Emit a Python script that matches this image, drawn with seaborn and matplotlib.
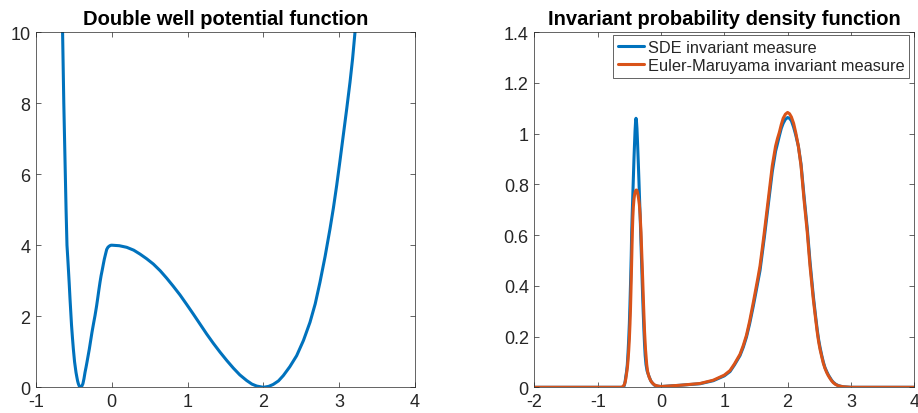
import numpy as np
import pandas as pd
import matplotlib
matplotlib.use("Agg")
import matplotlib.pyplot as plt
from matplotlib.ticker import FuncFormatter
import seaborn as sns

# ---------------- data ----------------
# Left panel: double well potential
pot_x = [-0.648, -0.640, -0.632, -0.622, -0.612, -0.602, -0.590, -0.580, -0.570,
         -0.560, -0.550, -0.540, -0.530, -0.518, -0.506, -0.490, -0.471, -0.460,
         -0.450, -0.440, -0.430, -0.420, -0.409, -0.395, -0.380, -0.366, -0.352,
         -0.338, -0.325, -0.310, -0.295, -0.278, -0.260, -0.240, -0.220, -0.200,
         -0.185, -0.170, -0.154, -0.140, -0.125, -0.110, -0.097, -0.080, -0.066,
         -0.050, -0.035, -0.015, 0.000, 0.100, 0.198, 0.290, 0.373, 0.460, 0.549,
         0.640, 0.726, 0.810, 0.901, 0.990, 1.077, 1.165, 1.253, 1.340, 1.429,
         1.520, 1.605, 1.690, 1.781, 1.850, 1.913, 2.000, 2.070, 2.130, 2.200,
         2.264, 2.350, 2.440, 2.530, 2.616, 2.685, 2.748, 2.815, 2.880, 2.925,
         2.968, 3.010, 3.055, 3.100, 3.144, 3.178, 3.210]
pot_y = [10.0, 9.0, 8.0, 7.0, 6.0, 5.0, 4.0, 3.65, 3.28,
         2.90, 2.49, 2.12, 1.75, 1.40, 1.08, 0.72, 0.42, 0.29,
         0.18, 0.10, 0.045, 0.01, 0.0, 0.03, 0.10, 0.24, 0.42,
         0.57, 0.72, 0.90, 1.08, 1.31, 1.55, 1.79, 2.02, 2.28,
         2.50, 2.73, 2.96, 3.14, 3.30, 3.47, 3.61, 3.76, 3.88,
         3.94, 3.97, 3.995, 4.00, 3.985, 3.94, 3.86, 3.75, 3.62, 3.47,
         3.28, 3.07, 2.85, 2.60, 2.33, 2.06, 1.78, 1.50, 1.24, 0.99,
         0.75, 0.54, 0.35, 0.19, 0.09, 0.035, 0.0, 0.025, 0.08, 0.18,
         0.33, 0.58, 0.89, 1.32, 1.83, 2.35, 2.96, 3.68, 4.46, 5.05,
         5.68, 6.35, 7.09, 7.83, 8.59, 9.25, 10.0]

# Right panel: invariant densities
sde_x = [-2.0, -0.600, -0.585, -0.575, -0.565, -0.558, -0.545, -0.532, -0.520,
         -0.510, -0.500, -0.490, -0.480, -0.470, -0.463, -0.455, -0.445, -0.436,
         -0.427, -0.418, -0.410, -0.402, -0.395, -0.388, -0.380, -0.370, -0.358,
         -0.348, -0.340, -0.330, -0.321, -0.310, -0.300, -0.290, -0.280, -0.270,
         -0.260, -0.250, -0.237, -0.220, -0.200, -0.185, -0.160, -0.130, -0.100,
         -0.068, 0.000, 0.300, 0.616, 0.826, 1.000, 1.090, 1.160, 1.248, 1.300,
         1.350, 1.400, 1.458, 1.500, 1.530, 1.564, 1.598, 1.632, 1.695, 1.758,
         1.810, 1.840, 1.869, 1.900, 1.930, 1.965, 2.000, 2.030, 2.060, 2.095,
         2.128, 2.170, 2.212, 2.259, 2.311, 2.354, 2.406, 2.440, 2.469, 2.490,
         2.512, 2.540, 2.564, 2.590, 2.618, 2.645, 2.670, 2.695, 2.722, 2.760,
         2.800, 2.840, 2.880, 3.000, 4.0]
sde_y = [0.0, 0.0, 0.004, 0.012, 0.025, 0.04, 0.06, 0.09, 0.14,
         0.19, 0.25, 0.33, 0.42, 0.52, 0.61, 0.68, 0.76, 0.83,
         0.90, 0.96, 1.01, 1.045, 1.06, 1.05, 1.02, 0.96, 0.88,
         0.81, 0.75, 0.68, 0.61, 0.52, 0.44, 0.36, 0.29, 0.225,
         0.17, 0.125, 0.09, 0.065, 0.05, 0.04, 0.025, 0.015, 0.008,
         0.005, 0.003, 0.008, 0.014, 0.026, 0.045, 0.062, 0.088, 0.125, 0.158,
         0.198, 0.25, 0.32, 0.375, 0.415, 0.46, 0.525, 0.59, 0.72, 0.85,
         0.93, 0.96, 0.99, 1.02, 1.04, 1.056, 1.063, 1.06, 1.05, 1.025,
         0.995, 0.95, 0.88, 0.755, 0.625, 0.495, 0.36, 0.285, 0.225, 0.188,
         0.158, 0.125, 0.10, 0.078, 0.062, 0.048, 0.038, 0.028, 0.02, 0.012,
         0.007, 0.004, 0.002, 0.0, 0.0]

em_x = [-2.0, -0.620, -0.600, -0.580, -0.567, -0.555, -0.542, -0.530, -0.520,
        -0.510, -0.500, -0.490, -0.482, -0.474, -0.465, -0.453, -0.445, -0.437,
        -0.427, -0.417, -0.405, -0.394, -0.384, -0.375, -0.365, -0.355, -0.342,
        -0.330, -0.316, -0.303, -0.290, -0.275, -0.260, -0.245, -0.226, -0.210,
        -0.190, -0.170, -0.150, -0.120, -0.100, -0.050, 0.000, 0.300, 0.616,
        0.826, 1.000, 1.090, 1.160, 1.248, 1.300, 1.350, 1.400, 1.458, 1.500,
        1.530, 1.564, 1.598, 1.632, 1.695, 1.758, 1.810, 1.840, 1.869, 1.900,
        1.930, 1.965, 2.000, 2.030, 2.060, 2.095, 2.128, 2.170, 2.212, 2.259,
        2.311, 2.354, 2.406, 2.440, 2.469, 2.490, 2.512, 2.540, 2.564, 2.590,
        2.618, 2.645, 2.670, 2.695, 2.722, 2.760, 2.800, 2.840, 2.880, 3.000, 4.0]
em_y = [0.0, 0.0, 0.004, 0.01, 0.02, 0.035, 0.058, 0.08, 0.11,
        0.145, 0.19, 0.25, 0.31, 0.386, 0.48, 0.61, 0.67, 0.71,
        0.741, 0.76, 0.772, 0.777, 0.777, 0.772, 0.76, 0.745, 0.72,
        0.68, 0.61, 0.52, 0.43, 0.32, 0.22, 0.15, 0.09, 0.06,
        0.042, 0.03, 0.021, 0.013, 0.009, 0.005, 0.003, 0.008, 0.015,
        0.028, 0.048, 0.066, 0.092, 0.13, 0.165, 0.205, 0.26, 0.334, 0.39,
        0.43, 0.478, 0.543, 0.61, 0.741, 0.873, 0.95, 0.98, 1.004, 1.035,
        1.06, 1.076, 1.083, 1.078, 1.065, 1.04, 1.004, 0.95, 0.873, 0.741,
        0.61, 0.478, 0.347, 0.275, 0.216, 0.18, 0.150, 0.12, 0.095, 0.075,
        0.058, 0.045, 0.035, 0.026, 0.018, 0.011, 0.006, 0.004, 0.002, 0.0, 0.0]

titles = ["Double well potential function", "Invariant probability density function"]
labels = ["SDE invariant measure", "Euler-Maruyama invariant measure"]
left_xticks = [-1, 0, 1, 2, 3, 4]
left_yticks = [0, 2, 4, 6, 8, 10]
right_xticks = [-2, -1, 0, 1, 2, 3, 4]
right_yticks = [0, 0.2, 0.4, 0.6, 0.8, 1.0, 1.2, 1.4]

# ---------------- style ----------------
sns.set_style("ticks")
plt.rcParams['font.family'] = ['Liberation Sans', 'DejaVu Sans']
BLUE = "#0072BD"
ORANGE = "#D95319"
AXC = "#262626"
LW = 2.2

fig = plt.figure(figsize=(9.18, 4.14), dpi=100)
ax1 = fig.add_axes([35.9 / 918, (414 - 388.3) / 414, 379.0 / 918, 355.3 / 414])
ax2 = fig.add_axes([534.4 / 918, (414 - 388.3) / 414, 379.8 / 918, 355.3 / 414])

pot_df = pd.DataFrame({"x": pot_x, "V": pot_y})
sns.lineplot(data=pot_df, x="x", y="V", ax=ax1, color=BLUE, linewidth=LW,
             estimator=None, sort=False)

dens_df = pd.concat([
    pd.DataFrame({"x": sde_x, "p": sde_y, "series": labels[0]}),
    pd.DataFrame({"x": em_x, "p": em_y, "series": labels[1]}),
], ignore_index=True)
sns.lineplot(data=dens_df, x="x", y="p", hue="series", ax=ax2,
             palette=[BLUE, ORANGE], linewidth=LW, estimator=None, sort=False)

fmt = FuncFormatter(lambda v, p: "%g" % round(v, 6))
for ax, xt, yt, xl, yl, t in [
    (ax1, left_xticks, left_yticks, (-1, 4), (0, 10), titles[0]),
    (ax2, right_xticks, right_yticks, (-2, 4), (0, 1.4), titles[1]),
]:
    ax.set_xlim(*xl)
    ax.set_ylim(*yl)
    ax.set_xticks(xt)
    ax.set_yticks(yt)
    ax.xaxis.set_major_formatter(fmt)
    ax.yaxis.set_major_formatter(fmt)
    ax.set_xlabel("")
    ax.set_ylabel("")
    ax.set_title(t, fontsize=14.5, fontweight="bold", color="black", pad=6)
    for s in ax.spines.values():
        s.set_visible(True)
        s.set_color(AXC)
        s.set_linewidth(0.5)
    ax.tick_params(direction="in", length=3.5, width=0.5, color=AXC,
                   labelsize=13, labelcolor=AXC, top=True, right=True, pad=4)
    ax.grid(False)

leg = ax2.legend(loc="upper right", bbox_to_anchor=(0.987, 0.9915), borderaxespad=0,
                 fontsize=11.8, handlelength=1.55, handletextpad=0.25,
                 labelspacing=0.2, borderpad=0.3, fancybox=False, framealpha=1,
                 edgecolor=AXC)
leg.get_frame().set_linewidth(0.5)
for line in leg.get_lines():
    line.set_linewidth(LW)

fig.savefig("out.png", dpi=100)
